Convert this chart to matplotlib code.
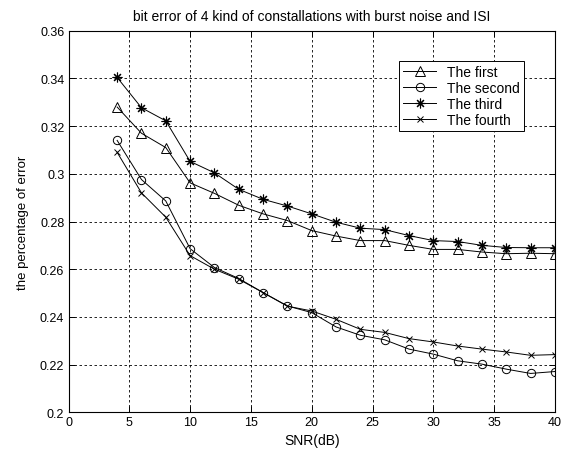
import matplotlib
matplotlib.use("Agg")
import matplotlib.pyplot as plt
from matplotlib.ticker import FormatStrFormatter
import numpy

plt.rcParams['font.family'] = ['Liberation Sans', 'DejaVu Sans']

snr = [4, 6, 8, 10, 12, 14, 16, 18, 20, 22, 24, 26, 28, 30, 32, 34, 36, 38, 40]

first_data = [0.328, 0.317, 0.311, 0.2962, 0.2918, 0.2868, 0.2832, 0.2804, 0.2762, 0.2739,
              0.272, 0.272, 0.270, 0.2683, 0.2683, 0.2672, 0.2665, 0.2667, 0.2665]
second_data = [0.314, 0.2976, 0.2886, 0.2686, 0.2607, 0.2561, 0.2502, 0.2446, 0.2418, 0.2358,
               0.2323, 0.2304, 0.2265, 0.2244, 0.2216, 0.2202, 0.2181, 0.2163, 0.2171]
third_data = [0.3404, 0.3277, 0.3222, 0.3052, 0.3004, 0.2935, 0.2893, 0.2865, 0.2832, 0.2797,
              0.2772, 0.2766, 0.2741, 0.272, 0.2716, 0.270, 0.2691, 0.269, 0.269]
fourth_data = [0.309, 0.292, 0.2818, 0.2657, 0.260, 0.2558, 0.2502, 0.2445, 0.2425, 0.239,
               0.2348, 0.2335, 0.2309, 0.2295, 0.2278, 0.2265, 0.2253, 0.2239, 0.2242]

labels = ['The first', 'The second', 'The third', 'The fourth']

fig = plt.figure(figsize=(5.68, 4.56), dpi=100)
ax = fig.add_axes([0.1206, 0.0936, 0.8564, 0.8369])

lw = 0.7
ax.plot(snr, first_data, color='k', lw=lw, marker='^', ms=7, mfc='none', mew=0.7, label=labels[0])
ax.plot(snr, second_data, color='k', lw=lw, marker='o', ms=6, mfc='none', mew=0.7, label=labels[1])
ax.plot(snr, third_data, color='k', lw=lw, marker=(8, 2, 0), ms=7, mew=0.8, label=labels[2])
ax.plot(snr, fourth_data, color='k', lw=lw, marker='x', ms=4, mew=0.7, label=labels[3])

ax.set_xlim(0, 40)
ax.set_ylim(0.2, 0.36)
ax.set_xticks(numpy.arange(0, 41, 5))
ax.set_yticks(numpy.arange(0.2, 0.361, 0.02))
ax.yaxis.set_major_formatter(FormatStrFormatter('%g'))
ax.tick_params(direction='in', top=True, right=True, labelsize=9, length=4, width=0.7, pad=3)
ax.grid(True, color='k', linestyle=(0, (3, 3)), lw=0.6)
for s in ax.spines.values():
    s.set_linewidth(0.8)

ax.set_title('bit error of 4 kind of constallations with burst noise and ISI', fontsize=10, pad=8)
ax.set_xlabel('SNR(dB)', fontsize=10, labelpad=3)
ax.set_ylabel('the percentage of error', fontsize=9.5, labelpad=8)

leg = ax.legend(loc='upper left', bbox_to_anchor=(0.679, 0.921), fontsize=10, frameon=True,
                fancybox=False, edgecolor='k', framealpha=1, borderpad=0.3,
                handlelength=2.4, labelspacing=0.15, borderaxespad=0)
leg.get_frame().set_linewidth(0.7)

fig.savefig('out.png', dpi=100)
